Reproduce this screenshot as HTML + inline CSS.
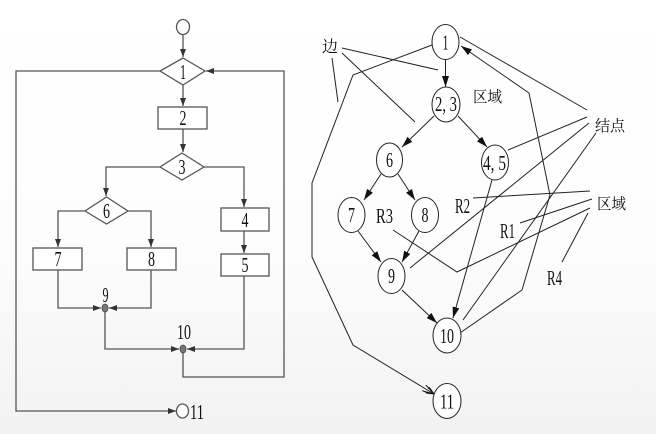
<!DOCTYPE html>
<html><head><meta charset="utf-8"><style>
html,body{margin:0;padding:0;}
body{width:656px;height:434px;overflow:hidden;background:#fff;}
svg{display:block;}
.n{font-family:"Liberation Serif","Noto Serif CJK SC",serif;font-size:21px;fill:#111;}
.c{font-family:"Liberation Serif","Noto Serif CJK SC",serif;font-size:15.5px;fill:#111;}
</style></head><body>
<svg width="656" height="434" viewBox="0 0 656 434" xmlns="http://www.w3.org/2000/svg">
<defs>
<linearGradient id="bg" x1="0" y1="0" x2="0" y2="1">
<stop offset="0" stop-color="#ffffff"/><stop offset="0.55" stop-color="#fdfdfd"/><stop offset="1" stop-color="#f2f2f2"/>
</linearGradient>
<marker id="a" markerWidth="8" markerHeight="6" refX="8" refY="3" orient="auto" markerUnits="userSpaceOnUse"><path d="M0,0 L8,3 L0,6 z" fill="#333"/></marker>
<marker id="b" markerWidth="11" markerHeight="7" refX="11" refY="3.5" orient="auto" markerUnits="userSpaceOnUse"><path d="M0,0 L11,3.5 L0,7 z" fill="#111"/></marker>
<marker id="d" markerWidth="12" markerHeight="7" refX="12" refY="3.5" orient="auto" markerUnits="userSpaceOnUse"><path d="M0,0 L12,3.5 L0,7 M4,0 L12,3.5 L4,7" fill="none" stroke="#111" stroke-width="1"/></marker>
</defs>
<rect width="656" height="434" fill="url(#bg)"/>

<!-- LEFT FLOWCHART -->
<g stroke="#555" stroke-width="1.3" fill="none">
<ellipse cx="183" cy="27" rx="6.5" ry="7.5" fill="#fff"/>
<line x1="183" y1="35" x2="183" y2="57" marker-end="url(#a)"/>
<polygon points="183,58 205,71 183,85 160,71" fill="#fff"/>
<polyline points="160,71 16,71 16,411 176,411" marker-end="url(#a)"/>
<ellipse cx="182.5" cy="411" rx="6" ry="7" fill="#fff"/>
<line x1="183" y1="85" x2="183" y2="106" marker-end="url(#a)"/>
<rect x="158" y="107" width="49" height="22" fill="#fff"/>
<line x1="183" y1="129" x2="183" y2="152" marker-end="url(#a)"/>
<polygon points="182,153 204,167 182,180 160,167" fill="#fff"/>
<polyline points="160,167 106,167 106,196" marker-end="url(#a)"/>
<polyline points="204,167 244,167 244,207" marker-end="url(#a)"/>
<polygon points="106.5,197 128,211 106.5,224 85,211" fill="#fff"/>
<polyline points="85,211 58,211 58,247" marker-end="url(#a)"/>
<polyline points="128,211 151,211 151,247" marker-end="url(#a)"/>
<rect x="33" y="248" width="49" height="22" fill="#fff"/>
<rect x="127" y="248" width="49" height="22" fill="#fff"/>
<rect x="221" y="208" width="48" height="23" fill="#fff"/>
<line x1="244" y1="231" x2="244" y2="253" marker-end="url(#a)"/>
<rect x="221" y="254" width="48" height="22" fill="#fff"/>
<polyline points="58,270 58,308 101,308" marker-end="url(#a)"/>
<polyline points="151,270 151,308 109,308" marker-end="url(#a)"/>
<polyline points="105,312 105,349 179,349" marker-end="url(#a)"/>
<polyline points="244,276 244,349 187,349" marker-end="url(#a)"/>
<polyline points="183,353 183,377 284,377 284,71 206,71" marker-end="url(#a)"/>
</g>
<ellipse cx="105" cy="308" rx="3" ry="4" fill="#777" stroke="#444" stroke-width="0.8"/>
<ellipse cx="183" cy="349" rx="3" ry="4" fill="#777" stroke="#444" stroke-width="0.8"/>
<g class="n" text-anchor="middle">
<text x="183" y="79" textLength="6" lengthAdjust="spacingAndGlyphs">1</text>
<text x="183" y="125" textLength="7" lengthAdjust="spacingAndGlyphs">2</text>
<text x="182" y="174" textLength="7" lengthAdjust="spacingAndGlyphs">3</text>
<text x="106.5" y="218" textLength="7" lengthAdjust="spacingAndGlyphs">6</text>
<text x="58" y="266" textLength="7" lengthAdjust="spacingAndGlyphs">7</text>
<text x="151.5" y="266" textLength="7" lengthAdjust="spacingAndGlyphs">8</text>
<text x="245" y="227" textLength="7" lengthAdjust="spacingAndGlyphs">4</text>
<text x="245" y="272" textLength="7" lengthAdjust="spacingAndGlyphs">5</text>
<text x="105.5" y="302" textLength="6" lengthAdjust="spacingAndGlyphs">9</text>
<text x="184" y="339" textLength="14" lengthAdjust="spacingAndGlyphs">10</text>
<text x="197" y="419" textLength="14" lengthAdjust="spacingAndGlyphs">11</text>
</g>

<!-- RIGHT GRAPH -->
<g stroke="#222" stroke-width="1" fill="none">
<line x1="342" y1="48" x2="438" y2="70"/>
<line x1="342" y1="53" x2="415" y2="122"/>
<line x1="332" y1="58" x2="338" y2="102"/>
<line x1="587" y1="110" x2="460" y2="37"/>
<line x1="587" y1="117" x2="508" y2="150"/>
<line x1="589" y1="123" x2="410" y2="268"/>
<line x1="596" y1="133" x2="463" y2="320"/>
<line x1="590" y1="191" x2="473" y2="198"/>
<line x1="592" y1="199" x2="520" y2="223"/>
<polyline points="590,208 457,272 393,230"/>
<line x1="588" y1="213" x2="562" y2="262"/>
<line x1="445.5" y1="60" x2="445.5" y2="87" marker-end="url(#b)"/>
<line x1="434" y1="116" x2="402" y2="147" marker-end="url(#b)"/>
<line x1="458" y1="116" x2="487" y2="147" marker-end="url(#b)"/>
<line x1="381" y1="174" x2="364" y2="200" marker-end="url(#b)"/>
<line x1="398" y1="174" x2="415" y2="200" marker-end="url(#b)"/>
<line x1="358" y1="231" x2="381" y2="262" marker-end="url(#b)"/>
<line x1="419" y1="231" x2="402" y2="262" marker-end="url(#b)"/>
<line x1="402" y1="290" x2="437" y2="323" marker-end="url(#b)"/>
<line x1="492" y1="180" x2="453" y2="318" marker-end="url(#b)"/>
<polyline points="460,333 522,290 550,195 529,93 461,46" marker-end="url(#b)"/>
<polyline points="432,45 353,75 312,183 312,257 353,345 434,394" marker-end="url(#d)"/>
</g>
<g stroke="#222" stroke-width="1" fill="#fff">
<ellipse cx="445.5" cy="42" rx="13.5" ry="17.5"/>
<ellipse cx="446" cy="104.5" rx="14" ry="17.5"/>
<ellipse cx="389.5" cy="160" rx="13" ry="17"/>
<ellipse cx="495" cy="162.5" rx="13.5" ry="17.5"/>
<ellipse cx="351.5" cy="215" rx="13.5" ry="17.5"/>
<ellipse cx="425" cy="215" rx="13.5" ry="17.5"/>
<ellipse cx="391.5" cy="276" rx="13.5" ry="17.5"/>
<ellipse cx="447" cy="335.5" rx="14" ry="17.5"/>
<ellipse cx="447" cy="401" rx="14" ry="17.5"/>
</g>
<g class="n" text-anchor="middle">
<text x="445.5" y="49.5" textLength="6" lengthAdjust="spacingAndGlyphs">1</text>
<text x="446" y="111" textLength="22" lengthAdjust="spacingAndGlyphs">2, 3</text>
<text x="389.5" y="167" textLength="7" lengthAdjust="spacingAndGlyphs">6</text>
<text x="494.5" y="170" textLength="23" lengthAdjust="spacingAndGlyphs">4, 5</text>
<text x="351.5" y="222" textLength="7" lengthAdjust="spacingAndGlyphs">7</text>
<text x="425" y="222" textLength="7" lengthAdjust="spacingAndGlyphs">8</text>
<text x="391.5" y="283" textLength="7" lengthAdjust="spacingAndGlyphs">9</text>
<text x="447" y="343" textLength="14" lengthAdjust="spacingAndGlyphs">10</text>
<text x="447" y="408.5" textLength="14" lengthAdjust="spacingAndGlyphs">11</text>
</g>
<g class="n">
<text x="455" y="213" textLength="15" lengthAdjust="spacingAndGlyphs">R2</text>
<text x="500" y="238" textLength="15" lengthAdjust="spacingAndGlyphs">R1</text>
<text x="376" y="223" textLength="17" lengthAdjust="spacingAndGlyphs">R3</text>
<text x="547" y="285" textLength="15" lengthAdjust="spacingAndGlyphs">R4</text>
</g>
<g class="c">
<text x="322" y="52" font-size="16">边</text>
<text x="473" y="102" textLength="29" lengthAdjust="spacingAndGlyphs">区域</text>
<text x="595" y="131" textLength="30" lengthAdjust="spacingAndGlyphs">结点</text>
<text x="597" y="209" textLength="29" lengthAdjust="spacingAndGlyphs">区域</text>
</g>
</svg>
</body></html>
